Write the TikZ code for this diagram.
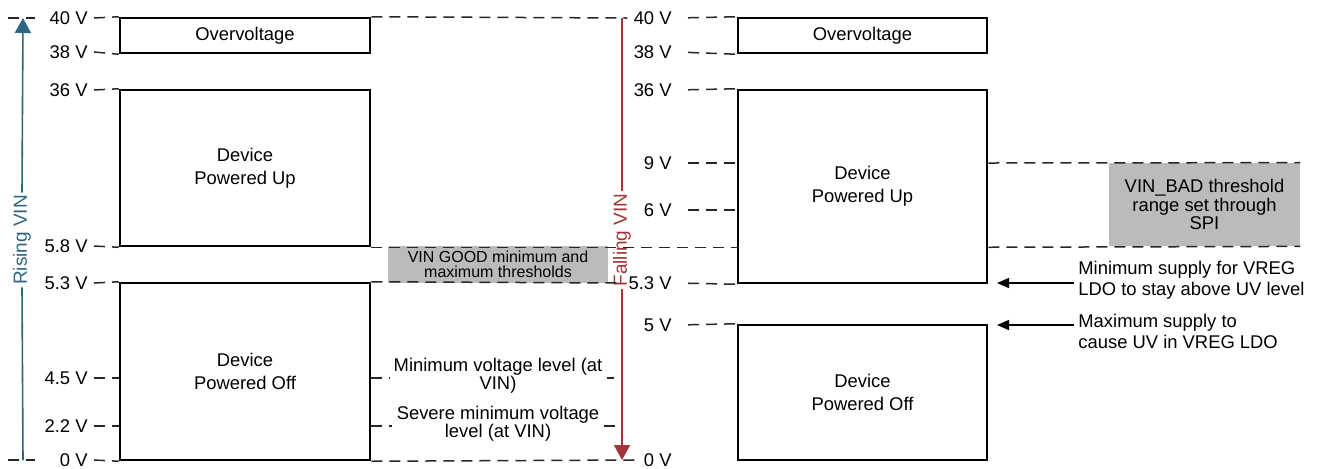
\documentclass[tikz,border=0pt]{standalone}
\usepackage{fontspec}
\setmainfont{Liberation Sans}
\usetikzlibrary{arrows.meta}
\definecolor{risecol}{RGB}{45,102,130}
\definecolor{fallcol}{RGB}{163,52,55}
\definecolor{bandgray}{RGB}{187,187,187}
\tikzset{
  box/.style={draw, line width=1.25pt, align=center, inner sep=0pt},
  lvl/.style={anchor=east, inner sep=3pt},
  lvldash/.style={dash pattern=on 5.5pt off 3.5pt, line width=0.75pt, draw=black!85},
  band/.style={fill=bandgray, align=center, inner sep=0pt},
  note/.style={align=center, inner sep=2pt, font=\fontsize{9.2}{9}\selectfont},
  sidenote/.style={anchor=west, align=left, inner sep=2pt, font=\fontsize{9.2}{10.5}\selectfont},
  ptr/.style={-{Triangle[length=6pt,width=5pt]}, line width=0.7pt},
  axisline/.style={line width=0.8pt},
  axistip/.style={-{Triangle[length=7.5pt,width=8pt]}},
  axistext/.style={rotate=90, inner sep=1pt, font=\fontsize{9.5}{11}\selectfont},
}

\begin{document}
\begin{tikzpicture}[x=0.5pt, y=-0.5pt, font=\fontsize{9.2}{11.5}\selectfont]
\useasboundingbox (0,0) rectangle (1317,468);

% rising input, left
\node[box, minimum width=125pt, minimum height=17.5pt] (ov1) at (245,35.5) {Overvoltage};
\node[box, minimum width=125pt, minimum height=78pt] (up1) at (245,168) {Device\\Powered Up};
\node[box, minimum width=125pt, minimum height=88.5pt] (off1) at (245,371.5) {Device\\Powered Off};
\node[band, minimum width=110pt, minimum height=18.5pt, font=\fontsize{8}{7.5}\selectfont] (good) at (498,264.5) {VIN GOOD minimum and\\maximum thresholds};

\node[lvl] (a40) at (94,18) {40 V};
\node[lvl] (a38) at (94,52) {38 V};
\node[lvl] (a36) at (94,90) {36 V};
\node[lvl] (a58) at (94,246) {5.8 V};
\node[lvl] (a53) at (94,283) {5.3 V};
\node[lvl] (a45) at (94,378) {4.5 V};
\node[lvl] (a22) at (94,426) {2.2 V};
\node[lvl] (a0) at (94,460) {0 V};

\node[note] (minv) at (498,376) {Minimum voltage level (at\\VIN)};
\node[note] (sevv) at (498,424) {Severe minimum voltage\\level (at VIN)};

% falling input, right
\node[box, minimum width=124.5pt, minimum height=17.5pt] (ov2) at (862.5,35.5) {Overvoltage};
\node[box, minimum width=124.5pt, minimum height=96.5pt] (up2) at (862.5,186.5) {Device\\Powered Up};
\node[box, minimum width=124.5pt, minimum height=67.5pt] (off2) at (862.5,392.5) {Device\\Powered Off};
\node[band, minimum width=95.5pt, minimum height=41.5pt, font=\fontsize{9.2}{9.25}\selectfont] (bad) at (1204.5,204.5) {VIN\_BAD threshold\\range set through\\SPI};

\node[lvl] (b40) at (678,18) {40 V};
\node[lvl] (b38) at (678,52) {38 V};
\node[lvl] (b36) at (678,90) {36 V};
\node[lvl] (b9) at (678,163) {9 V};
\node[lvl] (b6) at (678,210) {6 V};
\node[lvl] (b53) at (678,283) {5.3 V};
\node[lvl] (b5) at (678,325) {5 V};
\node[lvl] (b0) at (678,460) {0 V};

\node[sidenote] (abovenote) at (1074,280.5) {Minimum supply for VREG\\LDO to stay above UV level};
\node[sidenote] (causenote) at (1074,331) {Maximum supply to\\cause UV in VREG LDO};

% axes
\coordinate (risebot) at (23,460);
\coordinate (risetop) at (23,18);
\node[axistext, text=risecol] (risetxt) at (22,240) {Rising VIN};
\draw[axisline, risecol] (risebot) -- (risetxt.west);
\draw[axisline, axistip, risecol] (risetxt.east) -- (risetop);

\coordinate (falltop) at (622,18);
\coordinate (fallbot) at (622,460);
\node[axistext, text=fallcol] (falltxt) at (622,240) {Falling VIN};
\draw[axisline, fallcol] (falltop) -- (falltxt.east);
\draw[axisline, axistip, fallcol] (falltxt.west) -- (fallbot);

% level lines
\coordinate (lt0) at (8,18);
\coordinate (lt1) at (35,18);
\coordinate (lb0) at (8,460);
\coordinate (lb1) at (35,460);
\draw[lvldash] (lt0) -- (lt1);
\draw[lvldash] (lb0) -- (lb1);

\draw[lvldash] (a40.east) -- (ov1.north west);
\draw[lvldash] (a38.east) -- (ov1.south west);
\draw[lvldash] (a36.east) -- (up1.north west);
\draw[lvldash] (a58.east) -- (up1.south west);
\draw[lvldash] (a53.east) -- (off1.north west);
\draw[lvldash] (a45.east) -- (off1.west |- a45);
\draw[lvldash] (a22.east) -- (off1.west |- a22);
\draw[lvldash] (a0.east) -- (off1.south west);

\draw[lvldash] (ov1.north east) -- (b40.west);
\draw[lvldash] (up1.south east) -- (up2.west |- up1.south);
\draw[lvldash] (off1.north east) -- (b53.west);
\draw[lvldash] (off1.south east) -- (b0.west);

\coordinate (minend) at (614,378);
\coordinate (sevend) at (620,426);
\draw[lvldash] (off1.east |- a45) -- (minv.west |- a45);
\draw[lvldash] (minv.east |- a45) -- (minend);
\draw[lvldash] (off1.east |- a22) -- (sevv.west |- a22);
\draw[lvldash] (sevv.east |- a22) -- (sevend);

\draw[lvldash, shorten <=5pt] (b40.east) -- (ov2.north west);
\draw[lvldash, shorten <=5pt] (b38.east) -- (ov2.south west);
\draw[lvldash, shorten <=5pt] (b36.east) -- (up2.north west);
\draw[lvldash, shorten <=5pt] (b9.east) -- (up2.west |- b9);
\draw[lvldash, shorten <=5pt] (b6.east) -- (up2.west |- b6);
\draw[lvldash, shorten <=5pt] (b53.east) -- (up2.south west);
\draw[lvldash, shorten <=5pt] (b5.east) -- (off2.north west);

\draw[lvldash] (up2.east |- b9) -- (bad.north east);
\draw[lvldash] (up2.east |- up1.south) -- (bad.south east);

% pointers
\coordinate (tipabove) at (997,283);
\coordinate (tipcause) at (997,325);
\draw[ptr] (abovenote.west |- tipabove) -- (tipabove);
\draw[ptr] (causenote.west |- tipcause) -- (tipcause);
\end{tikzpicture}
\end{document}
